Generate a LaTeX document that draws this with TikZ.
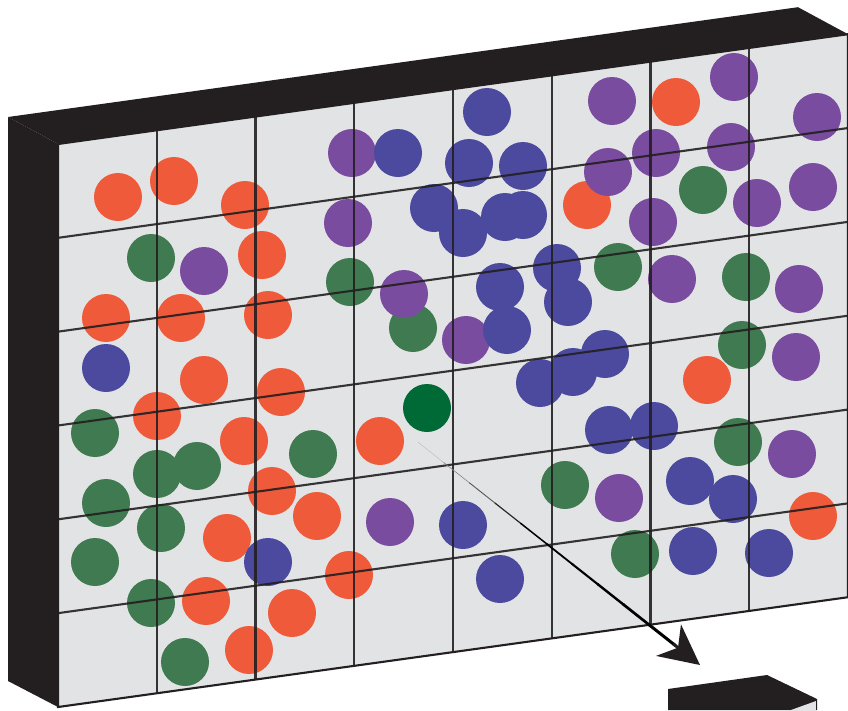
\documentclass[tikz,border=0pt]{standalone}
\usepackage{xcolor}
\usepackage{tikz}
\usetikzlibrary{arrows.meta,calc}
\definecolor{slabblack}{HTML}{231F20}
\definecolor{slabface}{HTML}{E2E3E5}
\definecolor{dotorange}{HTML}{EF5B3A}
\definecolor{dotpurple}{HTML}{7A4C9F}
\definecolor{dotblue}{HTML}{4C4A9F}
\definecolor{dotgreen}{HTML}{3F7A50}
\definecolor{dotdeep}{HTML}{006A36}

\begin{document}
\begin{tikzpicture}[
  x=1pt, y=-1pt,
  ball/.style={
    circle,
    inner sep=0pt,
    minimum size=48pt
  },
  gridline/.style={draw=slabblack, line width=2.1pt, opacity=0.9},
  slabside/.style={fill=slabblack},
  slabfront/.style={fill=slabface, draw=slabblack, line width=2.1pt}
]
\useasboundingbox (0,0) rectangle (848,710);
\clip (0,0) rectangle (848,710);

% big slab
\fill[slabside] (8,117) -- (58,144) -- (58,707) -- (8,681) -- cycle;
\fill[slabside] (8,117) -- (798,7.2) -- (848,34.2) -- (58,144) -- cycle;
\draw[slabfront] (58,144) -- (848,34.2) -- (848,597.2) -- (58,707) -- cycle;

% dots
\foreach \x/\y in {151/258, 350/282, 413/328, 95/433, 157/474, 197/466,
  313/454, 106/503, 161/528, 95/562, 151/603, 185/662,
  703/190, 618/267, 746/277, 742/345, 738/442, 565/485, 635/554}
  \node[ball, fill=dotgreen] at (\x,\y) {};
\foreach \x/\y in {118/197, 174/181, 245/205, 262/255, 106/318, 181/318,
  268/315, 204/380, 281/392, 157/416, 244/441, 380/441, 272/491,
  317/516, 227/538, 349/575, 206/601, 292/613, 249/650,
  676/102, 587/205, 707/380, 813/516}
  \node[ball, fill=dotorange] at (\x,\y) {};
\foreach \x/\y in {352/153, 348/223, 204/271, 404/294, 466/340, 390/522,
  612/101, 734/77, 817/117, 656/153, 608/172, 731/147, 653/222,
  757/203, 813/187, 672/279, 799/289, 796/357, 792/454, 619/498}
  \node[ball, fill=dotpurple] at (\x,\y) {};
\foreach \x/\y in {487/112, 398/153, 469/163, 523/166, 434/208, 463/233,
  505/217, 523/215, 500/287, 557/268, 568/302, 507/330, 106/368,
  540/383, 573/372, 605/354, 609/430, 654/426, 690/481, 733/499,
  463/525, 268/562, 500/579, 693/551, 769/553}
  \node[ball, fill=dotblue] at (\x,\y) {};
\node[ball, fill=dotdeep] (probe) at (427,408) {};

% grid over the face
\foreach \i in {1,...,7}
  \draw[gridline] ({58+98.75*\i},{144-0.139*98.75*\i}) -- ++(0,563);
\foreach \j in {1,...,5}
  \draw[gridline] (58,{144+93.83*\j}) -- ++(790,-109.8);

% small slab
\fill[slabside] (668,689) -- (767,675) -- (817,699) -- (817,710) -- (668,710) -- cycle;
\fill[slabface] (791,710) -- (816,701) -- (816,710) -- cycle;
\draw[slabblack, line width=0.8pt] (816.5,700) -- (816.5,710);

% tapered pointer
\coordinate (tail) at ([xshift=-9pt,yshift=-10pt]probe.south);
\coordinate (tip) at (700,665);
\foreach \s [evaluate=\s as \lw using 0.3+0.3*\s,
             evaluate=\s as \tone using {int(min(100,30+18*\s))}] in {0,...,9}
  \draw[line width=\lw pt, draw=black!\tone] ($(tail)!\s/11!(tip)$) -- ($(tail)!\s/11+0.095!(tip)$);
\draw[line width=3pt, draw=slabblack,
  -{Stealth[length=40pt, width=40pt, inset=12pt]}] ($(tail)!0.905!(tip)$) -- (tip);

\end{tikzpicture}
\end{document}
